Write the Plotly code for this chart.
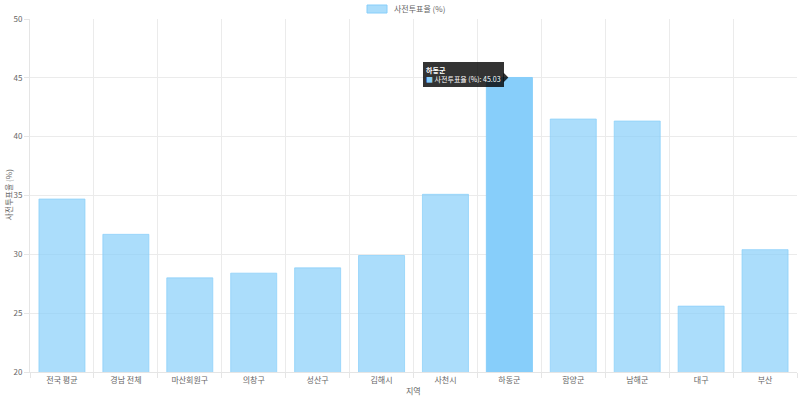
import plotly.graph_objects as go

categories = ["전국 평균", "경남 전체", "마산회원구", "의창구", "성산구", "김해시",
              "사천시", "하동군", "함양군", "남해군", "대구", "부산"]
values = [34.7, 31.7, 28.0, 28.4, 28.85, 29.9, 35.1, 45.03, 41.5, 41.33, 25.6, 30.4]
series_name = "사전투표율 (%)"
x_title = "지역"
highlight = "하동군"

base_color = "rgba(135,206,250,0.7)"
hover_color = "rgba(135,206,250,1)"

x_idx = list(range(len(categories)))
colors = [hover_color if c == highlight else base_color for c in categories]

font_family = "Noto Sans CJK KR, Noto Sans, sans-serif"
W, H = 800, 396
ML, MR, MT, MB = 30, 3, 19, 24

fig = go.Figure()
fig.add_trace(go.Bar(
    x=x_idx, y=values, name=series_name,
    marker=dict(color=colors, line=dict(color=colors, width=1)),
    width=0.72,
    showlegend=False,
    hoverinfo="skip",
))

fig.update_layout(
    width=W, height=H,
    margin=dict(l=ML, r=MR, t=MT, b=MB, autoexpand=False),
    paper_bgcolor="white", plot_bgcolor="white",
    font=dict(family=font_family, size=8, color="#666"),
    showlegend=False,
)

fig.update_xaxes(
    range=[-0.5, len(categories) - 0.5],
    tickmode="array", tickvals=x_idx, ticktext=categories,
    showgrid=False, zeroline=False,
    showline=True, linecolor="#e5e5e5", linewidth=1,
    ticks="", tickfont=dict(size=8, color="#666"),
    minor=dict(tickmode="linear", tick0=-0.5, dtick=1, showgrid=True,
               gridcolor="#ebebeb", gridwidth=1, ticks="outside", ticklen=5,
               tickcolor="#e5e5e5"),
    fixedrange=True,
)
fig.update_yaxes(
    range=[20, 50], tickmode="linear", tick0=20, dtick=5,
    showgrid=True, gridcolor="#ebebeb", gridwidth=1,
    zeroline=False, showline=True, linecolor="#e5e5e5", linewidth=1,
    ticks="outside", ticklen=5, tickcolor="#e5e5e5",
    tickfont=dict(size=8, color="#666"),
    fixedrange=True,
)

pw = W - ML - MR
ph = H - MT - MB
# axis titles
fig.add_annotation(
    text=x_title, xref="paper", yref="paper", x=0.5, y=0,
    yanchor="middle", yshift=-(390 - (H - MB)), showarrow=False,
    font=dict(size=8, color="#666"),
)
fig.add_annotation(
    text=series_name, xref="paper", yref="paper", x=0, y=0.5,
    xanchor="center", yanchor="middle", xshift=-(ML - 8), textangle=-90,
    showarrow=False, font=dict(size=8, color="#666"),
)

# legend (chart.js style box)
fig.add_shape(
    type="rect", xref="paper", yref="paper",
    x0=(367 - ML) / pw, x1=(387 - ML) / pw,
    y0=(H - MB - 13) / ph, y1=(H - MB - 5) / ph,
    fillcolor=base_color, line=dict(color=hover_color, width=1),
)
fig.add_annotation(
    text=series_name, xref="paper", yref="paper",
    x=(392 - ML) / pw, y=(H - MB - 9) / ph,
    xanchor="left", yanchor="middle", showarrow=False,
    font=dict(size=8, color="#666"),
)

# tooltip mimicking hover state
hi = categories.index(highlight)
hv = values[hi]
fig.add_annotation(
    x=hi, y=hv, xref="x", yref="y",
    xanchor="right", yanchor="middle", xshift=-5, yshift=3,
    showarrow=False, align="left",
    text=(f"<b>{highlight}</b><br>"
          f"<span style='color:rgb(135,206,250)'>■</span> {series_name}: {hv:.2f}"),
    font=dict(size=7, color="white", family=font_family),
    bgcolor="rgba(0,0,0,0.8)", borderpad=3, borderwidth=0,
)
# caret
fig.add_shape(
    type="path", xref="x", yref="y", xsizemode="pixel", ysizemode="pixel",
    xanchor=hi, yanchor=hv,
    path="M -6 5 L -1 0 L -6 -5 Z",
    fillcolor="rgba(0,0,0,0.8)", line=dict(width=0),
)

fig.write_html("out.html", config={"displayModeBar": False},
               post_script="document.body.style.margin='0';")
